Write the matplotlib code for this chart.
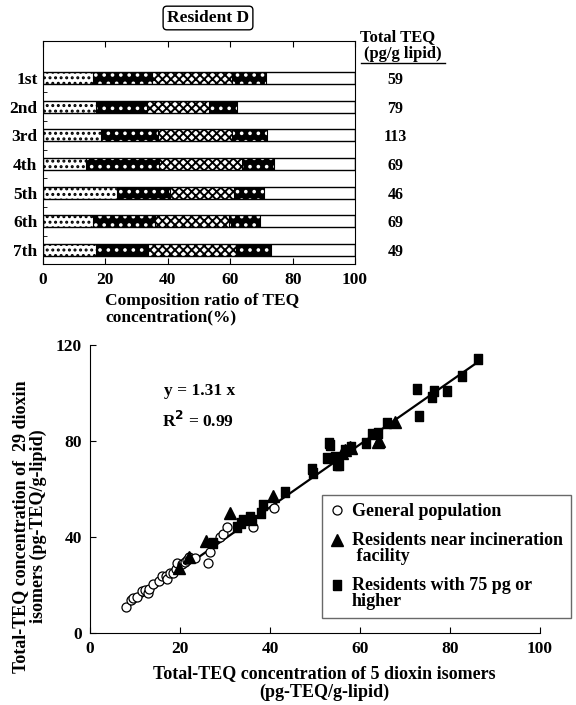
import numpy as np
import matplotlib
matplotlib.use('Agg')
import matplotlib.pyplot as plt
from matplotlib.transforms import blended_transform_factory
from matplotlib.legend_handler import HandlerLine2D

plt.rcParams['font.family'] = ['Liberation Serif', 'DejaVu Serif']
plt.rcParams['font.weight'] = 'bold'
plt.rcParams['axes.labelweight'] = 'bold'
plt.rcParams['hatch.linewidth'] = 1.4

# ---- top chart data (composition ratio, %) ----
rounds = ['1st', '2nd', '3rd', '4th', '5th', '6th', '7th']
seg1 = [15.9, 17.0, 18.5, 13.7, 23.6, 16.1, 17.0]
seg2 = [19.0, 16.3, 18.5, 23.6, 17.0, 19.8, 16.6]
seg3 = [25.7, 19.8, 23.6, 26.5, 20.6, 23.6, 28.1]
seg4 = [10.8, 9.1, 11.3, 10.2, 9.6, 10.0, 11.5]
total_teq = [59, 79, 113, 69, 46, 69, 49]

# ---- bottom chart data (pg-TEQ/g-lipid) ----
gen_x = [8.1, 9.0, 9.6, 10.4, 11.5, 12.2, 12.8, 13.2, 14.1, 15.4, 15.9, 16.9, 17.0,
         17.8, 18.5, 19.0, 19.4, 20.4, 21.0, 21.5, 22.0, 23.3, 26.3, 26.7, 28.9,
         29.6, 30.4, 36.3, 40.8]
gen_y = [10.7, 13.7, 14.4, 14.9, 17.6, 17.9, 16.5, 18.3, 20.4, 21.8, 23.8, 23.8, 22.5,
         25.1, 25.1, 26.5, 29.0, 28.8, 29.8, 30.4, 31.5, 31.1, 29.3, 33.9, 40.1,
         41.3, 44.0, 44.2, 52.0]
inc_x = [19.8, 21.9, 25.8, 31.2, 40.6, 55.9, 56.7, 57.8, 58.1, 64.1, 64.3, 67.8]
inc_y = [27.0, 31.6, 38.5, 49.9, 57.3, 74.9, 76.2, 77.6, 77.0, 79.7, 80.0, 88.0]
high_x = [27.4, 32.6, 33.5, 34.1, 35.6, 36.0, 38.1, 38.5, 43.3, 49.3, 49.5, 52.6, 53.0,
          53.3, 54.4, 54.8, 55.4, 56.7, 58.1, 61.3, 62.6, 64.1, 65.9, 72.7, 73.2,
          76.1, 76.4, 79.3, 82.6, 86.3]
high_y = [37.4, 44.0, 46.0, 47.1, 48.5, 47.0, 49.9, 53.3, 58.9, 68.2, 66.8, 72.8, 79.0,
          78.3, 73.5, 70.0, 70.0, 76.2, 77.4, 79.3, 82.9, 83.2, 87.4, 101.5, 90.4,
          98.5, 100.8, 100.8, 107.0, 114.0]
slope = 1.31
r2 = 0.99


class HandlerUp(HandlerLine2D):
    # legend key raised to sit beside the first line of a two-line label
    def __init__(self, dy, **kw):
        super().__init__(**kw)
        self.dy = dy

    def create_artists(self, legend, orig_handle, xdescent, ydescent, width, height,
                       fontsize, trans):
        arts = super().create_artists(legend, orig_handle, xdescent, ydescent, width,
                                      height, fontsize, trans)
        for a in arts:
            a.set_ydata(np.asarray(a.get_ydata(), dtype=float) + self.dy * fontsize)
        return arts


fig = plt.figure(figsize=(5.76, 7.05), dpi=100)

# ================= top: stacked composition bars =================
ax1 = fig.add_axes([0.0747, 0.6255, 0.5417, 0.3163])
pos = np.arange(len(rounds))
h = 0.42
s1 = np.array(seg1)
s2 = np.array(seg2)
s3 = np.array(seg3)
s4 = np.array(seg4)

ax1.barh(pos, s1, height=h, color='white', edgecolor='black', hatch='...', linewidth=0)
ax1.barh(pos, s2, left=s1, height=h, color='black', edgecolor='white', hatch='..', linewidth=0)
ax1.barh(pos, s3, left=s1 + s2, height=h, color='white', edgecolor='black', hatch='xxxx', linewidth=0)
ax1.barh(pos, s4, left=s1 + s2 + s3, height=h, color='black', edgecolor='white', hatch='..', linewidth=0)
ax1.barh(pos, np.full(len(rounds), 100), height=h, fill=False, edgecolor='black', linewidth=1)
for xs in [s1, s1 + s2, s1 + s2 + s3, s1 + s2 + s3 + s4]:
    ax1.vlines(xs, pos - h / 2, pos + h / 2, color='black', linewidth=0.8)

ax1.set_xlim(0, 100)
ax1.set_ylim(6.49, -1.29)
ax1.set_xticks(np.arange(0, 101, 20))
ax1.set_yticks(pos)
ax1.set_yticklabels(rounds, fontsize=12.5)
ax1.set_yticks(pos[:-1] + 0.5, minor=True)
ax1.tick_params(axis='x', direction='in', top=True, length=4, labelsize=12.5, pad=6)
ax1.tick_params(axis='y', which='major', length=0, pad=4)
ax1.tick_params(axis='y', which='minor', direction='in', length=3)
ax1.set_xlabel('Composition ratio of TEQ\nconcentration(%)', fontsize=12.5,
               multialignment='left', linespacing=1.05)
ax1.xaxis.set_label_coords(0.51, -0.13)

tr = blended_transform_factory(ax1.transAxes, ax1.transData)
for p, v in zip(pos, total_teq):
    ax1.text(1.13, p + 0.07, str(v), transform=tr, ha='center', va='center', fontsize=11.5)

fig.text(398 / 576, 1 - 37 / 705, 'Total TEQ', ha='center', va='center', fontsize=12)
fig.text(403 / 576, 1 - 54 / 705, '(pg/g lipid)', ha='center', va='center', fontsize=12)
fig.add_artist(plt.Line2D([361 / 576, 445 / 576], [1 - 63 / 705, 1 - 63 / 705],
                          color='black', linewidth=1))
fig.text(208 / 576, 1 - 18 / 705, 'Resident D', ha='center', va='center', fontsize=12.5,
         bbox=dict(boxstyle='round,pad=0.22', facecolor='white', edgecolor='black', linewidth=1))

# ================= bottom: scatter =================
ax2 = fig.add_axes([0.15625, 0.1021, 0.78125, 0.4085])
mk_sq = [(-0.35, -0.5), (0.35, -0.5), (0.35, 0.5), (-0.35, 0.5), (-0.35, -0.5)]
p_gen, = ax2.plot(gen_x, gen_y, 'o', mfc='white', mec='black', ms=6.5, mew=0.9,
                  label='General population', zorder=3)
p_inc, = ax2.plot(inc_x, inc_y, '^', color='black', ms=8,
                  label='Residents near incineration\n facility', zorder=3)
p_high, = ax2.plot(high_x, high_y, marker=mk_sq, linestyle='none', color='black', ms=7.5,
                   label='Residents with 75 pg or\nhigher', zorder=3)

all_x = np.concatenate([gen_x, inc_x, high_x])
fx = np.array([all_x.min(), all_x.max()])
ax2.plot(fx, slope * fx, color='black', linewidth=1.6, zorder=2)

ax2.set_xlim(0, 100)
ax2.set_ylim(0, 120)
ax2.set_xticks(np.arange(0, 101, 20))
ax2.set_yticks(np.arange(0, 121, 40))
ax2.spines['top'].set_visible(False)
ax2.spines['right'].set_visible(False)
ax2.tick_params(direction='in', length=4, labelsize=12.5, pad=6)
ax2.set_xlabel('Total-TEQ concentration of 5 dioxin isomers\n(pg-TEQ/g-lipid)', fontsize=13,
               linespacing=1.15)
ax2.xaxis.set_label_coords(0.52, -0.11)
ax2.set_ylabel('Total-TEQ concentration of  29 dioxin\nisomers (pg-TEQ/g-lipid)', fontsize=13,
               linespacing=1.05)
ax2.yaxis.set_label_coords(-0.095, 0.37)

ax2.text(16.5, 99, 'y = %.2f x' % slope, fontsize=12.5)
ax2.text(16.0, 86, 'R$^{\\mathbf{2}}$ = %.2f' % r2, fontsize=12.5)

leg = ax2.legend(handles=[p_gen, p_inc, p_high], loc='upper left',
                 bbox_to_anchor=(322 / 576, 1 - 495 / 705),
                 bbox_transform=fig.transFigure, fontsize=13, frameon=True, fancybox=False,
                 handlelength=0.8, handletextpad=0.4, borderpad=0.45, labelspacing=0.65,
                 borderaxespad=0,
                 handler_map={p_inc: HandlerUp(0.5), p_high: HandlerUp(0.5)})
for t in leg.get_texts():
    t.set_linespacing(0.95)
leg.get_frame().set_edgecolor('#444444')
leg.get_frame().set_linewidth(1.0)

fig.savefig('out.png', dpi=100)
